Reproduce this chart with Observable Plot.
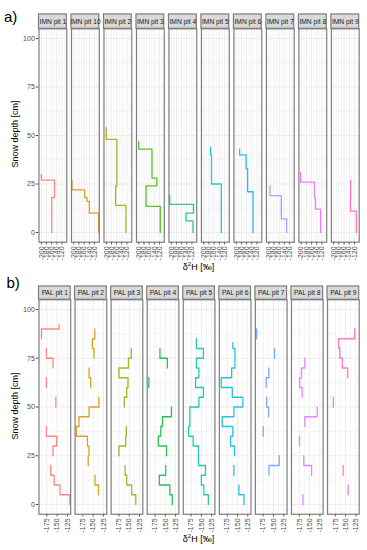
<!DOCTYPE html>
<html><head><meta charset="utf-8">
<script src="https://cdn.jsdelivr.net/npm/d3@7"></script>
<script src="https://cdn.jsdelivr.net/npm/@observablehq/plot@0.6"></script>
<style>
body{margin:0;background:#fff;}
#wrap{position:relative;width:367px;height:550px;overflow:hidden;font-family:"Liberation Sans",Arial,sans-serif;background:#fff;}
.abs{position:absolute;white-space:nowrap;}
.panel-tag{font-size:15px;color:#000;line-height:1;}
.ytitle{font-size:9px;color:#000;transform:translate(-50%,-50%) rotate(-90deg);line-height:1;}
.xtitle{font-size:9px;color:#000;transform:translate(-50%,-50%);line-height:1;}
.xtitle sup{font-size:6px;vertical-align:4px;line-height:0;}
</style></head><body><div id="wrap"></div>
<script>
// ---------- panel a: IMN pits ----------
const imnPits = ["IMN pit 1","IMN pit 10","IMN pit 2","IMN pit 3","IMN pit 4","IMN pit 5","IMN pit 6","IMN pit 7","IMN pit 8","IMN pit 9"];
const imnColors = ["#F8766D","#D89000","#A3A500","#39B600","#00BF7D","#00BFC4","#00B0F6","#9590FF","#E76BF3","#FF62BC"];
const imnBottom = [
  [0,18,27],
  [0,10,16,18,22],
  [0,14,24,48],
  [0,13.5,24,28,43],
  [0,6,10,14.5],
  [0,25,40],
  [0,21,33,40],
  [0,7,19],
  [0,12,18,26],
  [0,11,17]
];
const imnTop = [
  [18,27,30],
  [10,16,18,22,27],
  [14,24,48,54],
  [13.5,24,28,43,47],
  [6,10,14.5,19],
  [25,40,44],
  [21,33,40,43],
  [7,19,24],
  [12,18,26,31],
  [11,17,27]
];
const imnValue = [
  [-160,-149,-200],
  [-104,-140,-149,-158,-207],
  [-124,-164,-159,-200],
  [-117,-172,-130,-149,-200],
  [-116,-143,-114,-206],
  [-132,-170,-174],
  [-135,-156,-162,-187],
  [-131,-151.5,-195],
  [-125,-145,-149,-202],
  [-112.5,-135.5,-134.5]
];
const imnTicks = [-200,-180,-160,-140,-120];
const imnMinor = [-190,-170,-150,-130,-110];
const imnDomain = [-209,-101.5];

// ---------- panel b: PAL pits ----------
const palPits = ["PAL pit 1","PAL pit 2","PAL pit 3","PAL pit 4","PAL pit 5","PAL pit 6","PAL pit 7","PAL pit 8","PAL pit 9"];
const palColors = ["#F8766D","#D39200","#93AA00","#00BA38","#00C19F","#00B9E3","#619CFF","#DB72FB","#FF61C3"];
const palBottom = [
  [0,5,10,15,25,30,35,50,60,70,75,85,90],
  [5,10,20,25,30,35,40,45,50,60,65,75,80,85],
  [0,5,10,15,25,30,35,50,55,60,65,70,75],
  [0,5,10,15,25,30,35,40,45,60,70,75],
  [0,5,10,15,20,25,30,35,40,45,50,55,60,65,70,75,80],
  [0,5,15,25,30,35,40,45,50,55,60,65,70,75,80],
  [15,20,35,45,50,60,65,75,85],
  [0,15,20,30,40,45,55,60,65,70],
  [5,15,50,65,70,75,80,85]
];
const palTop = [
  [5,10,15,20,30,35,40,55,65,75,80,90,92.5],
  [10,15,25,30,35,40,45,50,55,65,70,80,85,90],
  [5,10,15,20,30,35,40,55,60,65,70,75,80],
  [5,10,15,20,30,35,40,45,50,65,75,80],
  [5,10,15,20,25,30,35,40,45,50,55,60,65,70,75,80,85],
  [5,10,20,30,35,40,45,50,55,60,65,70,75,80,83],
  [20,25,40,50,55,65,70,80,90],
  [5,20,25,35,45,50,60,65,70,75],
  [10,20,55,70,75,80,85,90]
];
const palValue = [
  [-119,-143,-157,-165.5,-160,-151,-176,-153,-176,-160,-176,-188,-145],
  [-137,-145.5,-162,-160,-164,-191,-184.5,-160,-136,-156,-160,-148,-152,-146],
  [-134,-144,-156,-160,-175,-158.5,-157,-162,-156,-153,-175,-152,-145],
  [-133,-139,-164.5,-149,-147,-167,-161,-157,-135,-190,-145,-163],
  [-133,-144,-150,-140,-157,-157,-170,-181,-178,-178,-156,-145,-164,-156,-162,-145,-162],
  [-134,-146.4,-158.6,-157,-166.7,-161,-187,-158.6,-136.7,-162.5,-189.4,-164,-156,-156,-161],
  [-161,-136,-175,-162,-166.5,-167.7,-161.3,-147.4,-191],
  [-166,-145,-164,-174.5,-161.6,-131.3,-168,-174,-169.6,-161.6],
  [-144,-156,-180,-145,-158,-164,-167,-128]
];
const palTicks = [-175,-150,-125];
const palMinor = [-187.5,-162.5,-137.5];
const palDomain = [-194,-117];

const depthTicks = [0,25,50,75,100];
const depthMinor = [12.5,37.5,62.5,87.5];
const depthDomain = [-5,105];

// build step-profile paths: each sample is a vertical segment; adjacent samples are joined
function buildRows(pits, bottoms, tops, values){
  const rows = []; let seg = 0;
  pits.forEach((pit,i)=>{
    seg++;
    bottoms[i].forEach((b,j)=>{
      if (j>0 && b !== tops[i][j-1]) seg++;
      rows.push({pit, depth:b, value:values[i][j], seg});
      rows.push({pit, depth:tops[i][j], value:values[i][j], seg});
    });
  });
  return rows;
}

const fmt = d => String(d);
const gridCol = "#ebebeb", borderCol = "#7d7d7d";

function makePanel({pits, colors, rows, domain, ticks, minor, height, marginTop, marginBottom, padInner, stripTop}){
  const xmid = (domain[0]+domain[1])/2;
  return Plot.plot({
    width: 367, height,
    marginTop, marginBottom, marginLeft: 38.5, marginRight: 8.3,
    style: {background:"transparent", fontFamily:"'Liberation Sans', Arial, sans-serif", fontSize:"7px", color:"#4d4d4d", overflow:"visible"},
    fx: {domain: pits, paddingInner: padInner, paddingOuter: 0, round: false, axis: null, label: null},
    x: {domain, ticks, tickFormat: fmt, tickRotate: -90, tickSize: 2.7, tickPadding: 1.5, label: null},
    y: {domain: depthDomain, ticks: depthTicks, tickFormat: fmt, tickSize: 2.7, tickPadding: 1.5, label: null},
    color: {domain: pits, range: colors},
    marks: [
      Plot.ruleY(depthMinor, {stroke: gridCol, strokeWidth: 0.5}),
      Plot.ruleY(depthTicks, {stroke: gridCol, strokeWidth: 0.9}),
      Plot.ruleX(minor, {stroke: gridCol, strokeWidth: 0.5}),
      Plot.ruleX(ticks, {stroke: gridCol, strokeWidth: 0.9}),
      Plot.line(rows, {fx: "pit", x: "value", y: "depth", z: "seg", stroke: "pit", strokeWidth: 1.3, strokeOpacity: 0.85, curve: "linear"}),
      Plot.frame({stroke: borderCol, strokeWidth: 1.2}),
      Plot.rect(pits, {fx: d => d, x1: () => domain[0], x2: () => domain[1], y1: () => 105, y2: () => stripTop, fill: "#d9d9d9", stroke: borderCol, strokeWidth: 1.2, ariaLabel: "strip-rect"}),
      Plot.text(pits, {fx: d => d, x: () => xmid, y: () => (105+stripTop)/2, text: d => d, fill: "#1a1a1a", fontSize: 6.7, ariaLabel: "strip-text"})
    ]
  });
}

function clipStrips(svg, prefix){
  const texts = svg.querySelectorAll('g[aria-label="strip-text"] text');
  const rects = svg.querySelectorAll('g[aria-label="strip-rect"] rect');
  let defs = svg.querySelector("defs");
  if (!defs){ defs = document.createElementNS("http://www.w3.org/2000/svg","defs"); svg.insertBefore(defs, svg.firstChild); }
  texts.forEach((t,i)=>{
    const r = rects[i]; if (!r) return;
    const M = t.getCTM().inverse().multiply(r.getCTM());
    const x = +r.getAttribute("x"), y = +r.getAttribute("y"), w = +r.getAttribute("width"), h = +r.getAttribute("height");
    const cp = document.createElementNS("http://www.w3.org/2000/svg","clipPath");
    cp.setAttribute("id", prefix+i);
    const cr = document.createElementNS("http://www.w3.org/2000/svg","rect");
    cr.setAttribute("x", M.a*x + M.c*y + M.e);
    cr.setAttribute("y", M.b*x + M.d*y + M.f);
    cr.setAttribute("width", w*M.a);
    cr.setAttribute("height", h*M.d);
    cp.appendChild(cr); defs.appendChild(cp);
    t.setAttribute("clip-path", `url(#${prefix+i})`);
  });
}

const wrap = document.getElementById("wrap");
function place(el, left, top){
  const d = document.createElement("div");
  d.className = "abs"; d.style.left = left+"px"; d.style.top = top+"px";
  d.appendChild(el); wrap.appendChild(d); return d;
}
function label(html, cls, left, top){
  const d = document.createElement("div");
  d.className = "abs "+cls; d.style.left = left+"px"; d.style.top = top+"px";
  d.innerHTML = html; wrap.appendChild(d); return d;
}

const chartA = makePanel({pits: imnPits, colors: imnColors, rows: buildRows(imnPits, imnBottom, imnTop, imnValue),
  domain: imnDomain, ticks: imnTicks, minor: imnMinor, height: 262, marginTop: 28.3, marginBottom: 20.3, padInner: 0.144, stripTop: 112.4});
place(chartA, 0, 0);
clipStrips(chartA.tagName.toLowerCase()==="svg" ? chartA : chartA.querySelector("svg"), "clipA");

const chartB = makePanel({pits: palPits, colors: palColors, rows: buildRows(palPits, palBottom, palTop, palValue),
  domain: palDomain, ticks: palTicks, minor: palMinor, height: 280, marginTop: 29.25, marginBottom: 36.25, padInner: 0.122, stripTop: 111.8});
place(chartB, 0, 270);
clipStrips(chartB.tagName.toLowerCase()==="svg" ? chartB : chartB.querySelector("svg"), "clipB");

label("a)", "panel-tag", 4, 9);
label("b)", "panel-tag", 6.5, 275);
label("Snow depth [cm]", "ytitle", 14.5, 134);
label("Snow depth [cm]", "ytitle", 14.5, 406);
label("δ<sup>2</sup>H [‰]", "xtitle", 198.5, 267);
label("δ<sup>2</sup>H [‰]", "xtitle", 198.5, 539);
</script></body></html>
